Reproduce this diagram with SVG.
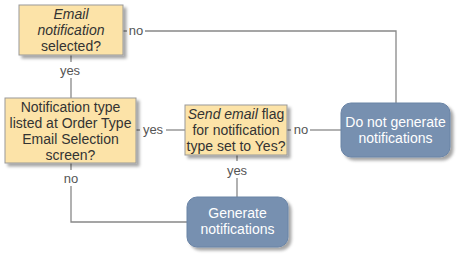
<svg xmlns="http://www.w3.org/2000/svg" width="460" height="257" viewBox="0 0 460 257">
<defs>
<filter id="sh" x="-10%" y="-10%" width="130%" height="140%">
<feDropShadow dx="3" dy="3" stdDeviation="1.5" flood-color="#000" flood-opacity="0.35"/>
</filter>
<style>
.dec{fill:#fce3a8;stroke:#999;stroke-width:1;filter:url(#sh)}
.term{fill:#7790b0;stroke:#6a84a6;stroke-width:1;filter:url(#sh)}
.t{font-family:"Liberation Sans",Arial,sans-serif;font-size:14px;fill:#333;text-anchor:middle}
.w{fill:#fff}
.lbl{font-family:"Liberation Sans",Arial,sans-serif;font-size:13px;fill:#555;text-anchor:middle}
.c{fill:none;stroke:#888;stroke-width:1.3}
</style>
</defs>
<rect width="460" height="257" fill="#fff"/>
<g id="connectors">
<polyline class="c" points="123,31 127,31"/>
<polyline class="c" points="145,31 396,31 396,103"/>
<polyline class="c" points="71,55 71,62"/>
<polyline class="c" points="71,78 71,98"/>
<polyline class="c" points="136,130 140,130"/>
<polyline class="c" points="166,130 185,130"/>
<polyline class="c" points="287,130 291,130"/>
<polyline class="c" points="310,130 341,130"/>
<polyline class="c" points="237,155 237,161"/>
<polyline class="c" points="237,178 237,197"/>
<polyline class="c" points="71,163 71,170"/>
<polyline class="c" points="71,186 71,222 187,222"/>
<text class="lbl" x="136" y="35">no</text>
<text class="lbl" x="70" y="75">yes</text>
<text class="lbl" x="153" y="134">yes</text>
<text class="lbl" x="301" y="134">no</text>
<text class="lbl" x="237" y="175">yes</text>
<text class="lbl" x="71" y="183">no</text>
</g>
<g id="n1">
<rect class="dec" x="19" y="5" width="104" height="50"/>
<text class="t" x="71" y="19" font-style="italic">Email</text>
<text class="t" x="71" y="35" font-style="italic">notification</text>
<text class="t" x="71" y="51">selected?</text>
</g>
<g id="n2">
<rect class="dec" x="5" y="98" width="131" height="65"/>
<text class="t" x="70.5" y="112">Notification type</text>
<text class="t" x="70.5" y="128">listed at Order Type</text>
<text class="t" x="70.5" y="144">Email Selection</text>
<text class="t" x="70.5" y="160">screen?</text>
</g>
<g id="n3">
<rect class="dec" x="185" y="105" width="102" height="50"/>
<text class="t" x="236" y="119"><tspan font-style="italic">Send email</tspan> flag</text>
<text class="t" x="236" y="135">for notification</text>
<text class="t" x="236" y="151">type set to Yes?</text>
</g>
<g id="n4">
<rect class="term" x="341" y="103" width="109" height="54" rx="10"/>
<text class="t w" x="395.5" y="127">Do not generate</text>
<text class="t w" x="395.5" y="143">notifications</text>
</g>
<g id="n5">
<rect class="term" x="187" y="197" width="101" height="50" rx="10"/>
<text class="t w" x="237.5" y="218">Generate</text>
<text class="t w" x="237.5" y="234">notifications</text>
</g>
</svg>
